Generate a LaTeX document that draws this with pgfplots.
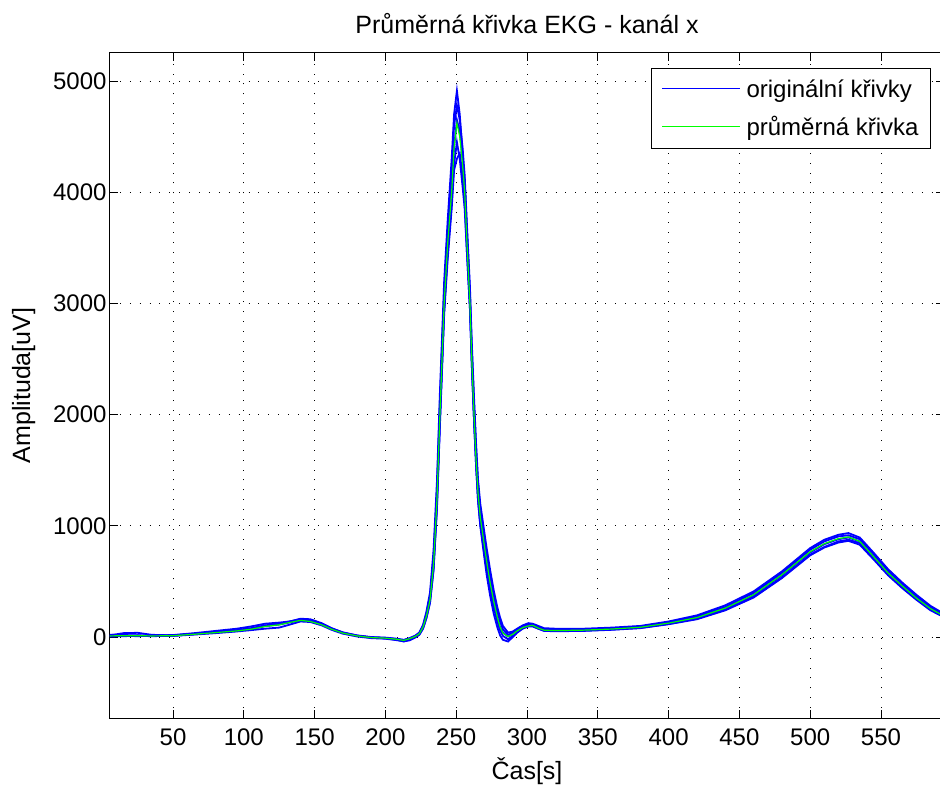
\documentclass[border=0pt]{standalone}
\usepackage{fontspec}
\setmainfont{Liberation Sans}
\usepackage{pgfplots}
\usepackage{pgfplotstable}
\pgfplotsset{compat=1.18}
\newcommand\f{\fontsize{24}{29}\selectfont}
\newcommand\ft{\fontsize{25}{30}\selectfont}
\pgfplotstableread{
t g b1 b2 b3 b4 b5
5 10 15 20 5 10 12
15 12 35 18 8 12 10
25 12 38 15 10 15 8
35 10 20 14 8 12 10
50 12 15 18 10 14 12
65 25 30 35 22 28 25
80 40 48 55 35 45 40
95 55 62 75 50 60 55
105 70 80 95 62 75 72
115 95 105 120 75 100 98
125 110 118 130 85 120 112
132 130 138 140 110 135 130
140 150 165 158 140 160 150
147 140 160 150 135 148 140
155 110 125 118 105 115 110
162 70 80 78 65 75 72
170 35 40 42 30 38 36
180 10 12 15 5 12 10
190 -5 -5 0 -10 -2 -5
200 -10 -12 -5 -15 -8 -10
208 -20 -25 -15 -28 -18 -22
213 -30 -40 -25 -38 -28 -32
217 -15 -25 -10 -30 -12 -18
221 5 5 12 -5 10 0
224 30 40 40 20 35 25
226.6 90 110 100 75 95 80
229 190 230 210 170 200 175
231.5 333 400 370 310 340 310
234 650 780 720 610 650 600
236.4 1232 1400 1300 1180 1200 1150
238.5 2000 2200 2100 1950 1950 1900
240 2500 2700 2600 2450 2450 2400
241.5 3000 3200 3100 2950 2950 2900
244 3543 3750 3650 3500 3450 3400
246.8 4000 4300 4200 4000 3900 3850
248.5 4400 4700 4600 4400 4250 4200
250.5 4620 4913 4780 4650 4450 4300
252.5 4500 4700 4650 4550 4300 4350
254.5 4250 4350 4400 4300 4050 4150
256 4000 4050 4150 4100 3850 3900
257.6 3543 3600 3700 3650 3450 3450
259.7 3000 3000 3150 3100 2950 2950
261 2500 2500 2650 2600 2450 2450
262.6 2000 1950 2150 2100 1950 1950
264 1600 1550 1750 1700 1600 1550
265.4 1300 1230 1420 1380 1280 1230
267 1080 1000 1200 1150 1060 1010
269 900 800 1020 970 880 830
271.5 680 560 800 750 660 610
274 485 370 600 550 470 420
276.5 320 210 420 380 310 270
279 180 90 270 230 170 140
281 90 15 175 140 90 60
283 35 -25 100 70 40 10
286.6 5 -40 40 20 5 -20
290 25 0 50 40 25 10
293 55 40 75 70 55 40
297 85 80 105 100 85 75
301 100 100 125 115 100 95
304 105 100 120 110 105 95
308 80 75 100 90 85 75
312 62 58 80 70 65 55
320 58 55 75 65 60 52
340 62 58 75 68 62 55
360 72 68 85 78 72 65
380 88 82 100 95 88 80
400 125 118 140 132 122 115
420 175 165 195 185 172 160
440 260 245 285 270 255 240
460 380 360 410 395 375 355
480 560 535 590 575 555 530
500 767 740 800 785 760 735
510 840 810 875 860 835 805
520 885 860 920 905 880 850
527 900 875 935 915 895 865
535 860 845 895 880 860 830
545 720 715 755 745 725 695
555 576 575 610 600 585 555
565 460 455 490 480 465 440
575 350 345 380 370 355 335
585 255 250 280 270 260 240
595 185 180 205 200 190 175
}\ekg
\begin{document}
\begin{tikzpicture}
\begin{axis}[
  scale only axis, width=834pt, height=665pt,
  xmin=5.5, xmax=594.5, ymin=-728, ymax=5252,
  xtick={50,100,...,550}, ytick={0,1000,...,5000},
  scaled ticks=false,
  /pgf/number format/1000 sep={},
  /pgf/number format/assume math mode=true,
  grid=major,
  major grid style={black, line width=0.8pt, dash pattern=on 0.9pt off 9pt},
  tick align=inside, major tick length=8pt,
  tick style={black, line width=0.8pt},
  axis line style={black, line width=1pt},
  tick label style={font=\f},
  xticklabel style={yshift=-7pt},
  title={Průměrná křivka EKG - kanál x},
  title style={font=\ft, yshift=10pt},
  xlabel={Čas[s]}, ylabel={Amplituda[uV]},
  label style={font=\ft},
  xlabel style={yshift=-5pt},
  ylabel style={yshift=11pt},
  legend style={font=\f, at={(1,1)}, anchor=north east, xshift=-13pt, yshift=-15pt,
    draw=black, line width=0.8pt, cells={anchor=west}, row sep=14pt,
    column sep=4pt, inner xsep=10pt, inner ysep=9pt},
  legend image code/.code={\draw[#1] (0pt,0pt) -- (78pt,0pt);},
]
\addlegendimage{blue, line width=1pt}
\addlegendentry{originální křivky}
\addlegendimage{green, line width=1pt}
\addlegendentry{průměrná křivka}
\addplot[blue, line width=1.8pt, forget plot] table[x=t, y=b1]{\ekg};
\addplot[blue, line width=1.8pt, forget plot] table[x=t, y=b2]{\ekg};
\addplot[blue, line width=1.8pt, forget plot] table[x=t, y=b3]{\ekg};
\addplot[blue, line width=1.8pt, forget plot] table[x=t, y=b4]{\ekg};
\addplot[blue, line width=1.8pt, forget plot] table[x=t, y=b5]{\ekg};
\addplot[green, line width=1.2pt, forget plot] table[x=t, y=g]{\ekg};
\end{axis}
\pgfresetboundingbox
\path[use as bounding box] ([xshift=-110pt,yshift=-69pt]current axis.south west) rectangle ([xshift=-4pt,yshift=53pt]current axis.north east);
\end{tikzpicture}
\end{document}
